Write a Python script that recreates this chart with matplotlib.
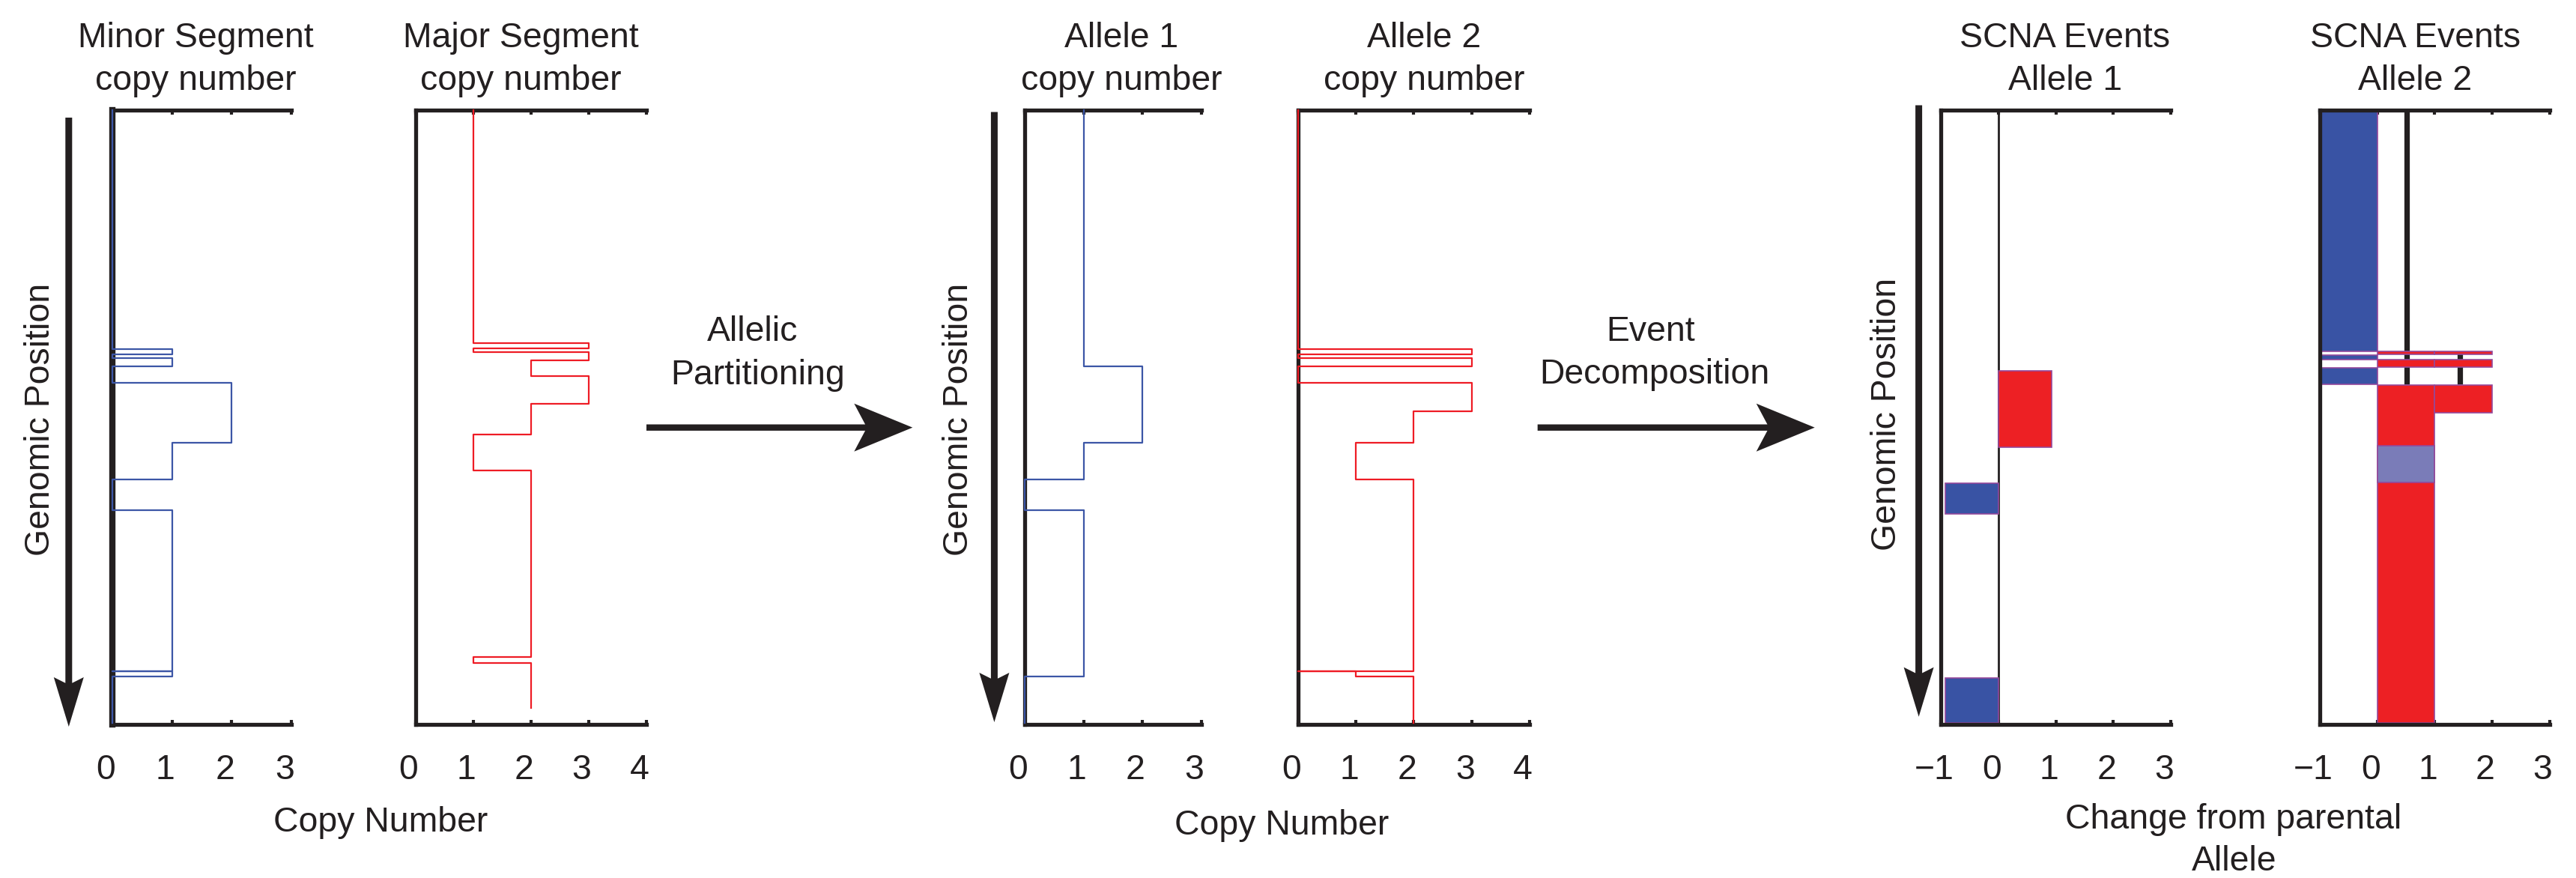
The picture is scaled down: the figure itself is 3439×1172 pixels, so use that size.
import numpy as np
import matplotlib.pyplot as plt
from matplotlib.patches import Polygon
from matplotlib.transforms import ScaledTranslation

plt.rcParams['font.family'] = ['Liberation Sans', 'DejaVu Sans']
plt.rcParams['font.size'] = 16.7

BLACK = '#231f20'
BLUE = '#3c56a6'
RED = '#ee1c25'
BLUE_FILL = '#3953a4'
RED_FILL = '#ed2024'
MIX_FILL = '#7a7cb8'
EDGE = '#93489b'

# genomic segments, position 0 (top) .. 100 (bottom)
edges = [0, 38.9, 39.8, 40.4, 41.8, 44.4, 49.0, 54.2, 60.2, 65.2, 91.3, 92.2, 99.8]
minor_cn = [0, 1, 0, 1, 0, 2, 2, 1, 0, 1, 1, 0]
major_cn = [1, 3, 1, 3, 2, 3, 2, 1, 2, 2, 1, 2]
allele1_cn = [1, 1, 1, 1, 2, 2, 2, 1, 0, 1, 1, 0]
allele2_cn = [0, 3, 0, 3, 0, 3, 2, 1, 2, 2, 1, 2]
minor_dips = [91.3]
allele2_dips = [91.3]

# SCNA events, change from parental allele
ev1_start = [42.5, 60.8, 92.4]
ev1_end = [54.9, 65.7, 99.7]
ev1_lo = [0, -0.93, -0.93]
ev1_hi = [0.93, 0, 0]
ev1_kind = ['gain', 'loss', 'loss']

ev2_start = [0, 39.9, 42.0, 39.3, 39.3, 40.7, 40.7, 44.8, 44.8, 54.7]
ev2_end = [39.3, 40.6, 44.7, 39.8, 39.8, 41.9, 41.9, 99.8, 49.3, 60.65]
ev2_lo = [-1, -1, -1, 0, 1, 0, 1, 0, 1, 0]
ev2_hi = [0, 0, 0, 1, 2, 1, 2, 1, 2, 1]
ev2_kind = ['loss', 'loss', 'loss', 'gain', 'gain', 'gain', 'gain', 'gain', 'gain', 'mix']
ev2_mark_x = [0.51, 1.44]
ev2_mark_top = [0, 39.3]
ev2_mark_bottom = [44.7, 44.7]

kind_color = {'gain': RED_FILL, 'loss': BLUE_FILL, 'mix': MIX_FILL}

W, H = 3439, 1172
fig = plt.figure(figsize=(W / 200, H / 200), dpi=200)

# overlay in pixel coords for arrows
bg = fig.add_axes([0, 0, 1, 1], zorder=-1)
bg.set_xlim(0, W)
bg.set_ylim(H, 0)
bg.axis('off')


def px_axes(x0, x1, y0=146.5, y1=967):
    return fig.add_axes([x0 / W, 1 - y1 / H, (x1 - x0) / W, (y1 - y0) / H])


def ftext(x, y, s, **kw):
    fig.text(x / W, 1 - y / H, s, color=BLACK, **kw)


def arrow(x0, y0, x1, y1, shaft=8.4, head=78, half=32, notch=17):
    d = np.array([x1 - x0, y1 - y0], float)
    u = d / np.hypot(*d)
    n = np.array([-u[1], u[0]])
    p0 = np.array([x0, y0], float)
    tip = np.array([x1, y1], float)
    back = tip - u * head
    j = back + u * notch * (1 - shaft / 2 / half)
    pts = [p0 + n * shaft / 2, j + n * shaft / 2, back + n * half, tip,
           back - n * half, j - n * shaft / 2, p0 - n * shaft / 2]
    bg.add_patch(Polygon(pts, closed=True, fc=BLACK, ec='none'))


def trace(cn, dips):
    xs, ys = [], []
    for i, v in enumerate(cn):
        if edges[i] in dips:
            xs.append(0)
            ys.append(edges[i])
        xs += [v, v]
        ys += [edges[i], edges[i + 1]]
    return xs, ys


def setup(ax, xlim, ticks, ymax=100):
    ax.set_xlim(xlim)
    ax.set_ylim(ymax, 0)
    ax.set_xticks(ticks)
    ax.set_yticks([])
    ax.spines['right'].set_visible(False)
    for s in ('left', 'top', 'bottom'):
        ax.spines[s].set_linewidth(1.9)
        ax.spines[s].set_color(BLACK)
    ax.tick_params(axis='x', direction='in', top=True, bottom=True, length=2.3,
                   width=1.5, pad=14, color=BLACK, labelcolor=BLACK, labelsize=16.7)
    # labels in the original sit a little left of their ticks
    shift = ScaledTranslation(-9 / 200, 0, fig.dpi_scale_trans)
    for lab in ax.get_xticklabels():
        lab.set_transform(lab.get_transform() + shift)


# minor / major segment copy number
ax1 = px_axes(150, 389)
setup(ax1, (0, 3), [0, 1, 2, 3])
ax1.spines['left'].set_linewidth(3)
x, y = trace(minor_cn, minor_dips)
ax1.plot(x, y, color=BLUE, lw=0.8, zorder=3, clip_on=False)

ax2 = px_axes(554.5, 862.7)
setup(ax2, (0, 4), [0, 1, 2, 3, 4], ymax=102.5)
x, y = trace(major_cn, [])
ax2.plot(x, y, color=RED, lw=0.8, zorder=3, clip_on=False)

# allele copy number
ax3 = px_axes(1368, 1603.5)
setup(ax3, (0, 3), [0, 1, 2, 3])
x, y = trace(allele1_cn, [])
ax3.plot(x, y, color=BLUE, lw=0.8, zorder=3, clip_on=False)

ax4 = px_axes(1732.7, 2042)
setup(ax4, (0, 4), [0, 1, 2, 3, 4])
x, y = trace(allele2_cn, allele2_dips)
ax4.plot(x, y, color=RED, lw=0.8, zorder=3, clip_on=False)

# SCNA events
ax5 = px_axes(2591.3, 2898)
setup(ax5, (-1, 3), [-1, 0, 1, 2, 3])
ax5.axvline(0, color=BLACK, lw=1, zorder=1)
ax5.barh(ev1_start, np.subtract(ev1_hi, ev1_lo), left=ev1_lo,
         height=np.subtract(ev1_end, ev1_start), align='edge',
         color=[kind_color[k] for k in ev1_kind], edgecolor=EDGE, linewidth=0.6, zorder=2)

ax6 = px_axes(3097.3, 3403.6)
setup(ax6, (-1, 3), [-1, 0, 1, 2, 3])
ax6.vlines(ev2_mark_x, ev2_mark_top, ev2_mark_bottom, color=BLACK, lw=2.6, zorder=1)
ax6.barh(ev2_start, np.subtract(ev2_hi, ev2_lo), left=ev2_lo,
         height=np.subtract(ev2_end, ev2_start), align='edge',
         color=[kind_color[k] for k in ev2_kind], edgecolor=EDGE, linewidth=0.6, zorder=2)

# titles
titles = [(261, 'Minor Segment', 'copy number'), (695, 'Major Segment', 'copy number'),
          (1497, 'Allele 1', 'copy number'), (1901, 'Allele 2', 'copy number'),
          (2757, 'SCNA Events', 'Allele 1'), (3224, 'SCNA Events', 'Allele 2')]
for tx, l1, l2 in titles:
    ftext(tx, 63, l1, ha='center', va='baseline')
    ftext(tx, 120, l2, ha='center', va='baseline')

# x labels
ftext(508, 1110, 'Copy Number', ha='center', va='baseline')
ftext(1711, 1114, 'Copy Number', ha='center', va='baseline')
ftext(2982, 1106, 'Change from parental', ha='center', va='baseline')
ftext(2983, 1162, 'Allele', ha='center', va='baseline')

# genomic position labels and arrows
for gx, gy in [(66, 560), (1292, 560), (2531, 553)]:
    ftext(gx, gy, 'Genomic Position', rotation=90, rotation_mode='anchor',
          ha='center', va='baseline')
arrow(91.8, 157, 91.8, 970, shaft=9, head=66, half=20, notch=10)
arrow(1327.4, 149.5, 1327.4, 964, shaft=9, head=66, half=20, notch=10)
arrow(2561.6, 140.5, 2561.6, 956.7, shaft=9, head=66, half=20, notch=10)

# step arrows
arrow(849.3, 570.7, 1218.3, 570.7)
ftext(1005, 455, 'Allelic', ha='center', va='baseline')
ftext(1012, 513, 'Partitioning', ha='center', va='baseline')
arrow(2052.7, 570.7, 2422.7, 570.7)
ftext(2204, 455, 'Event', ha='center', va='baseline')
ftext(2209, 512, 'Decomposition', ha='center', va='baseline')

fig.savefig('out.png', dpi=200)
